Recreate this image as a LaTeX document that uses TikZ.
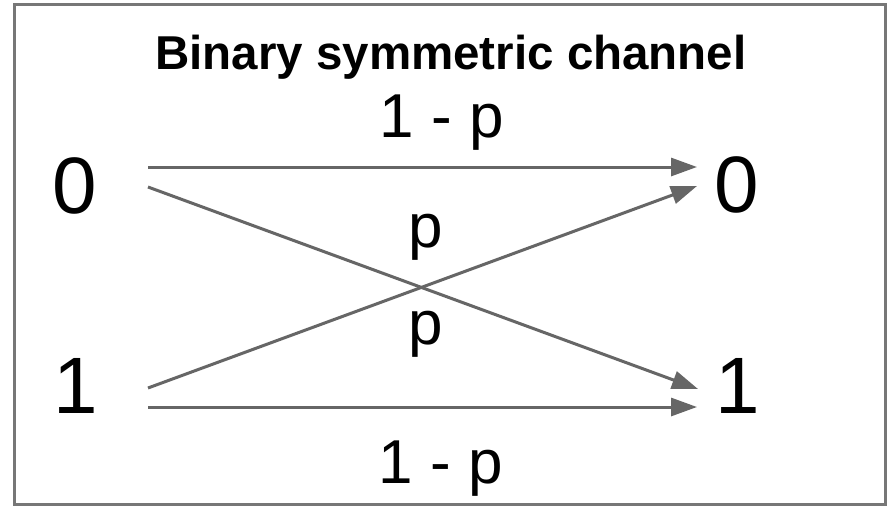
\documentclass[tikz,border=0pt]{standalone}
\usepackage{fontspec}
\setmainfont{Liberation Sans}
\usetikzlibrary{arrows.meta}
\definecolor{arrowgray}{HTML}{666666}
\definecolor{framegray}{HTML}{777777}
\begin{document}
\begin{tikzpicture}[x=1pt,y=-1pt,
  digit/.style={anchor=base,inner sep=0pt,font=\fontsize{80}{80}\selectfont},
  lab/.style={anchor=base,inner sep=0pt,font=\fontsize{62}{62}\selectfont},
  conn/.style={draw=arrowgray,line width=3pt,-{Triangle[length=26pt,width=18pt]}}]
\useasboundingbox (0,0) rectangle (888,506);
\fill[white] (0,0) rectangle (888,506);
\draw[framegray,line width=3pt] (14.5,4.5) rectangle (885,504);
\node[anchor=base,inner sep=0pt,font=\fontsize{47.5}{47.5}\selectfont\bfseries] (title) at (451,69) {Binary symmetric channel};
\node[digit] (in0) at (75,213) {0};
\node[digit] (out0) at (737,212) {0};
\node[digit] (in1) at (75.5,413) {1};
\node[digit] (out1) at (737.5,413) {1};
\coordinate (s00) at (148,167);
\coordinate (e00) at (697,167);
\coordinate (s01) at (148,187);
\coordinate (e01) at (698,389);
\coordinate (s10) at (148,388);
\coordinate (e10) at (697,186);
\coordinate (s11) at (148,407);
\coordinate (e11) at (697,407);
\draw[conn] (s00) -- (e00);
\draw[conn] (s01) -- (e01);
\draw[conn] (s10) -- (e10);
\draw[conn] (s11) -- (e11);
\node[lab] (ltop) at (442,137) {1 - p};
\node[lab] (lup) at (426,247) {p};
\node[lab] (llow) at (426,344) {p};
\node[lab] (lbot) at (441,483) {1 - p};
\end{tikzpicture}
\end{document}
